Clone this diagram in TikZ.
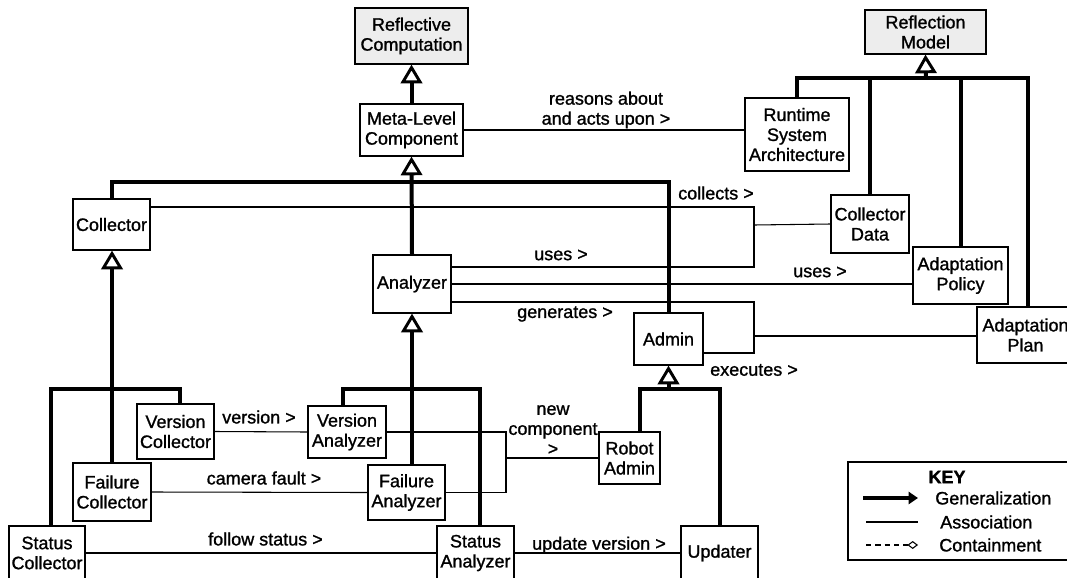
\documentclass[tikz,border=0pt]{standalone}
\usepackage{fontspec}
\setmainfont{Liberation Sans}[FakeBold = 1.2]
\usetikzlibrary{arrows.meta,calc}

\begin{document}
\begin{tikzpicture}[x = .75pt, y = -.75pt,
		font = \fontsize{13.5}{15}\selectfont,
		cls/.style 2 args = {draw, line width = .9pt, align = center, inner sep = 0pt,
			minimum width = #1*.75pt, minimum height = #2*.75pt},
		meta/.style 2 args = {cls = {#1}{#2}, fill = black!7},
		gen/.style = {line width = 3pt, -{Triangle[open, length = 14pt, width = 16pt, line width = 2.2pt]}},
		genbar/.style = {line width = 3pt},
		assoc/.style = {line width = .8pt},
		lbl/.style = {inner sep = 0pt, align = center}]
	\useasboundingbox (0,0) rectangle (1067,578);
	% classes
	\node[meta = {113}{56}] (RC) at (411.5,36) {Reflective\\Computation};
	\node[cls = {103}{52}] (MLC) at (411.5,130) {Meta-Level\\Component};
	\node[meta = {121}{44}] (RM) at (925.5,32) {Reflection\\Model};
	\node[cls = {104}{73}] (RSA) at (797,134.5) {Runtime\\System\\Architecture};
	\node[cls = {77}{51}] (Col) at (111.5,224.5) {Collector};
	\node[cls = {78}{58}] (Ana) at (412,284) {Analyzer};
	\node[cls = {69}{52}] (Adm) at (668.5,339) {Admin};
	\node[cls = {78}{58}] (CData) at (870,224) {Collector\\Data};
	\node[cls = {95}{57}] (APol) at (960.5,275.5) {Adaptation\\Policy};
	\node[cls = {97}{56}] (APlan) at (1025.5,335) {Adaptation\\Plan};
	\node[cls = {77}{55}] (VCol) at (175.5,431.5) {Version\\Collector};
	\node[cls = {78}{52}] (VAna) at (347,432) {Version\\Analyzer};
	\node[cls = {78}{58}] (FCol) at (112,492) {Failure\\Collector};
	\node[cls = {77}{55}] (FAna) at (406.5,492.5) {Failure\\Analyzer};
	\node[cls = {76}{54}] (SCol) at (47,553) {Status\\Collector};
	\node[cls = {77}{54}] (SAna) at (475.5,553) {Status\\Analyzer};
	\node[cls = {61}{52}] (RAdm) at (629.5,458) {Robot\\Admin};
	\node[cls = {77}{54}] (Upd) at (719.5,553) {Updater};

	% generalization trees
	\coordinate (busMLC) at (412,182);
	\coordinate (busRM) at (926,78);
	\coordinate (busCol) at (111.5,389);
	\coordinate (busAna) at (412,389);
	\coordinate (busAdm) at (668.5,389);
	\draw[gen] (MLC.north) -- (RC.south);
	\draw[gen] (Ana.north) -- (MLC.south);
	\draw[genbar] (Col.north) |- (busMLC) -| (Adm.north);
	\draw[gen] (busRM) -- (RM.south);
	\draw[genbar] (RSA.north) |- (busRM) -| ([xshift = 2pt]APlan.north);
	\draw[genbar] (CData.north) -- (CData.north |- busRM);
	\draw[genbar] (APol.north) -- (APol.north |- busRM);
	\draw[gen] (FCol.north) -- (FCol.north |- Col.south);
	\draw[genbar] ([xshift = 3pt]SCol.north) |- (busCol) -| ([xshift = 3pt]VCol.north);
	\draw[gen] (Ana.south |- FAna.north) -- (Ana.south);
	\draw[genbar] ([xshift = -3pt]VAna.north) |- (busAna) -| ([xshift = 3pt]SAna.north);
	\draw[gen] (busAdm) -- (Adm.south);
	\draw[genbar] ([xshift = 8pt]RAdm.north) |- (busAdm) -| (Upd.north);

	% associations
	\coordinate (jCData) at (754,225);
	\coordinate (jAPlan) at (754,336);
	\coordinate (jRAdm) at (506,458);
	\draw[assoc] (MLC.east) -- (MLC.east -| RSA.west);
	\draw[assoc] ($(Col.east)+(0,-17.5)$) -| (jCData) |- ($(Ana.east)+(0,-17)$);
	\draw[assoc] (jCData) -- (CData.west);
	\draw[assoc] (Ana.east) -- (Ana.east -| APol.west);
	\draw[assoc] ($(Ana.east)+(0,18)$) -| (jAPlan) |- ($(Adm.east)+(0,14)$);
	\draw[assoc] (jAPlan) -- (jAPlan -| APlan.west);
	\draw[assoc] (VCol.east) -- (VAna.west);
	\draw[assoc] (FCol.east) -- (FAna.west);
	\draw[assoc] (SCol.east) -- (SAna.west);
	\draw[assoc] (VAna.east) -| (jRAdm) |- (FAna.east);
	\draw[assoc] (jRAdm) -- (RAdm.west);
	\draw[assoc] (SAna.east) -- (Upd.west);

	% labels
	\node[lbl] (lReason) at (606,110) {reasons about\\and acts upon >};
	\node[lbl] (lCollects) at (716,193) {collects >};
	\node[lbl] (lUses) at (561,255) {uses >};
	\node[lbl] (lUsesPol) at (820,272) {uses >};
	\node[lbl] (lGen) at (565,314) {generates >};
	\node[lbl] (lExec) at (754,370) {executes >};
	\node[lbl] (lVersion) at (259,417) {version >};
	\node[lbl] (lFault) at (264,478) {camera fault >};
	\node[lbl] (lFollow) at (265.5,539) {follow status >};
	\node[lbl] (lNew) at (553,430) {new\\component\\>};
	\node[lbl] (lUpdate) at (599,545) {update version >};

	% key
	\draw[line width = .9pt] (848,462) rectangle (1069,560);
	\node[font = \bfseries\fontsize{13.5}{15}\selectfont] (kTitle) at (947,477) {KEY};
	\node[lbl, anchor = west] (kGen) at (935,498) {Generalization};
	\node[lbl, anchor = west] (kAssoc) at (940,522) {Association};
	\node[lbl, anchor = west] (kCont) at (939,545) {Containment};
	\draw[line width = 3pt, -{Triangle[length = 7pt, width = 9pt]}] ($(kGen.west)+(-72,0)$) -- ($(kGen.west)+(-17,0)$);
	\draw[assoc] ($(kAssoc.west)+(-74,0)$) -- ($(kAssoc.west)+(-22,0)$);
	\draw[assoc, dash pattern = on 4pt off 3pt, -{Diamond[open, length = 8pt, width = 6pt]}] ($(kCont.west)+(-73,0)$) -- ($(kCont.west)+(-21,0)$);
\end{tikzpicture}
\end{document}
